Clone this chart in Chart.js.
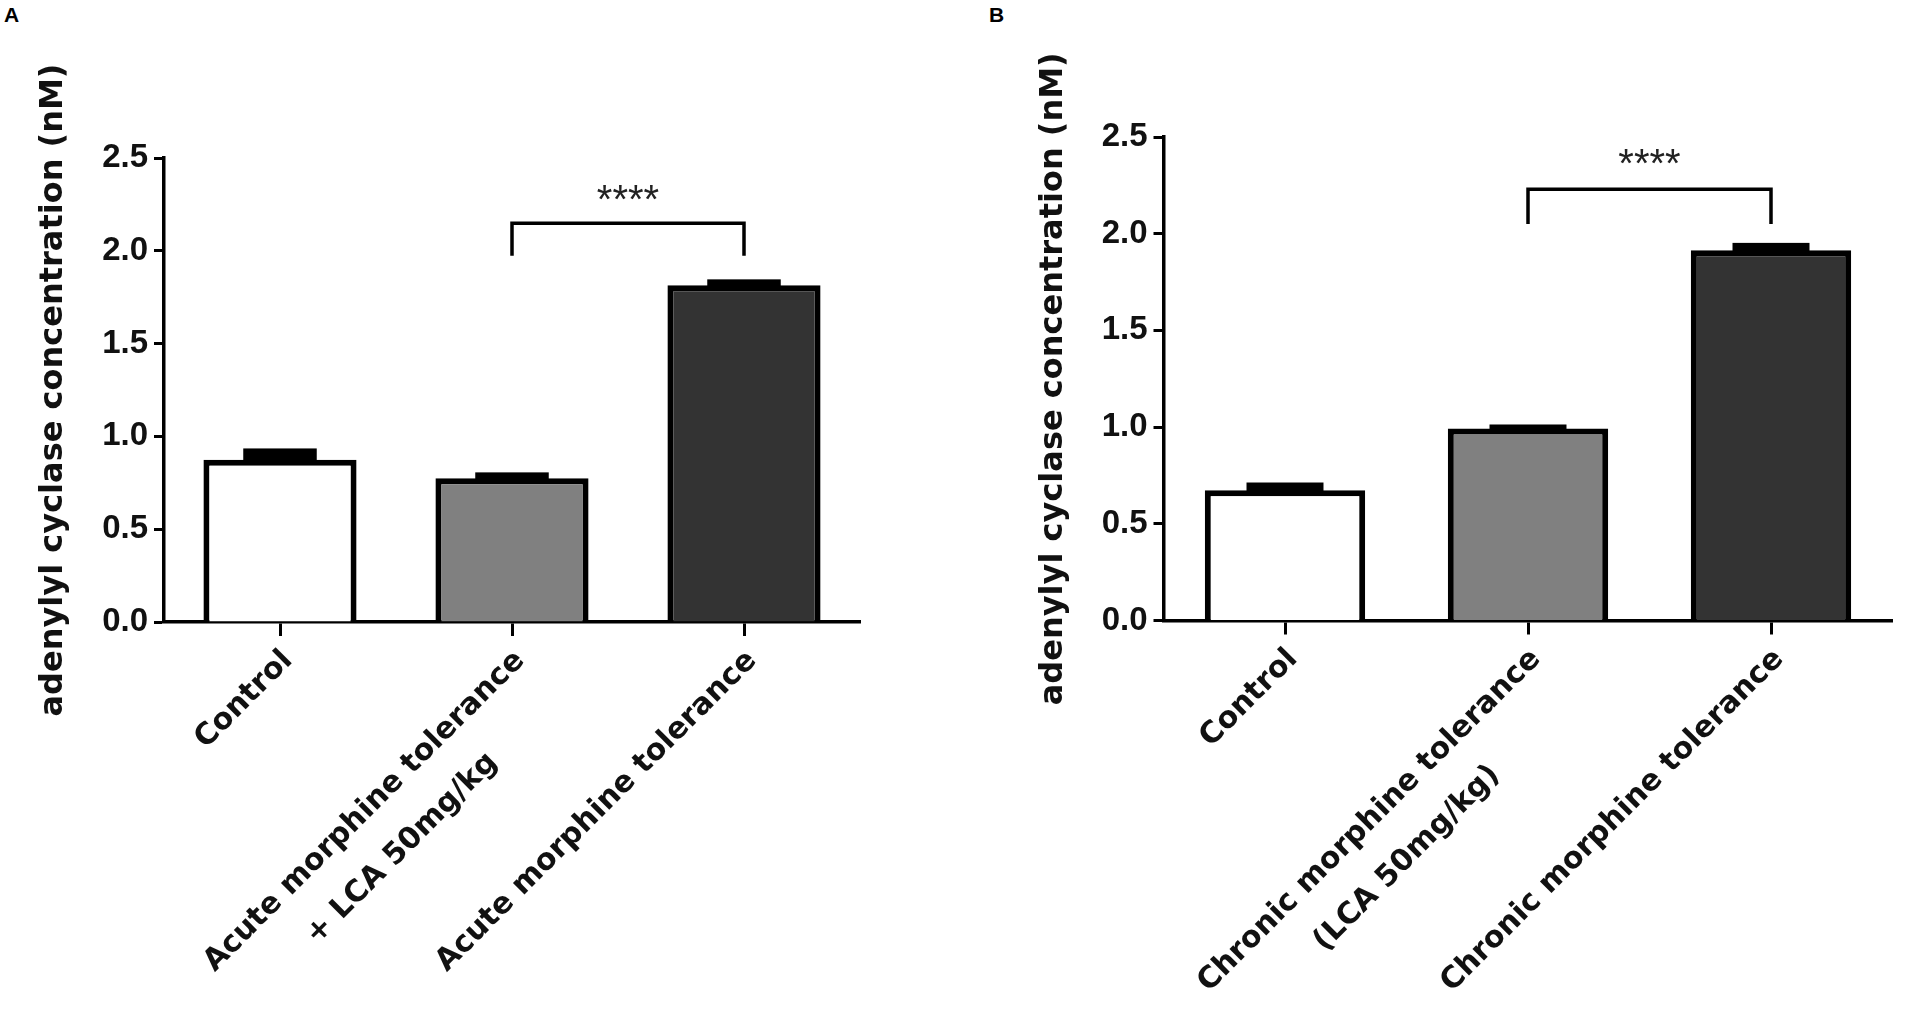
<!DOCTYPE html>
<html>
<head>
<meta charset="utf-8">
<title>Adenylyl cyclase concentration</title>
<script src="https://cdn.jsdelivr.net/npm/chart.js@4.4.0/dist/chart.umd.min.js"></script>
<style>
  html, body { margin: 0; padding: 0; background: #fff; }
  body { width: 1909px; height: 1016px; position: relative; overflow: hidden; }
  .panel { position: absolute; top: 0; height: 1016px; }
  #panelA { left: 0; width: 900px; }
  #panelB { left: 950px; width: 959px; }
  .tag { position: absolute; top: 3px; font: bold 21px "Liberation Sans", Arial, sans-serif; color: #000; }
</style>
</head>
<body>
<div class="tag" style="left:4px">A</div>
<div class="tag" style="left:989px">B</div>
<div class="panel" id="panelA"><canvas id="chartA"></canvas></div>
<div class="panel" id="panelB"><canvas id="chartB"></canvas></div>

<script>
// Data
var labelsA = [['Control'], ['Acute morphine tolerance', '+ LCA 50mg/kg'], ['Acute morphine tolerance']];
var meansA = [0.874, 0.775, 1.815];
var semA = [0.045, 0.015, 0.015];

var labelsB = [['Control'], ['Chronic morphine tolerance', '(LCA 50mg/kg)'], ['Chronic morphine tolerance']];
var meansB = [0.674, 0.993, 1.915];
var semB = [0.024, 0.005, 0.022];

var barColors = ['#ffffff', '#808080', '#333333'];
var yTicks = [0, 0.5, 1.0, 1.5, 2.0, 2.5];
var yTitle = 'adenylyl cyclase concentration (nM)';

// significance bracket: bars compared, bracket top, leg end, star height
var sigA = { from: 1, to: 2, top: 2.148, end: 1.973, starY: 2.33, text: '****' };
var sigB = { from: 1, to: 2, top: 2.23, end: 2.05, starY: 2.41, text: '****' };

function makeChart(id, labels, means, sem, sig, box) {
    var extras = {
        id: 'extras',
        afterDatasetsDraw: function(chart) {
            var ctx = chart.ctx;
            var x = chart.scales.x, y = chart.scales.y;
            var meta = chart.getDatasetMeta(0);
            ctx.save();
            // error bars (SEM)
            ctx.fillStyle = '#000';
            meta.data.forEach(function(bar, i) {
                var w = bar.width * 0.48;
                var top = y.getPixelForValue(means[i] + sem[i]) - 3;
                var bottom = y.getPixelForValue(means[i]) + 4;
                ctx.fillRect(bar.x - w / 2, top, w, bottom - top);
            });
            // bracket
            var x1 = x.getPixelForValue(sig.from), x2 = x.getPixelForValue(sig.to);
            var yt = y.getPixelForValue(sig.top), ye = y.getPixelForValue(sig.end);
            ctx.strokeStyle = '#000';
            ctx.lineWidth = 3.5;
            ctx.beginPath();
            ctx.moveTo(x1, ye);
            ctx.lineTo(x1, yt);
            ctx.lineTo(x2, yt);
            ctx.lineTo(x2, ye);
            ctx.stroke();
            ctx.fillStyle = '#222';
            ctx.font = '40px "Liberation Sans", Arial, sans-serif';
            ctx.textAlign = 'center';
            ctx.textBaseline = 'alphabetic';
            ctx.fillText(sig.text, (x1 + x2) / 2, y.getPixelForValue(sig.starY) + 23);
            ctx.restore();
        },
        afterDraw: function(chart) {
            // rotated category labels, second line centred under the first
            var ctx = chart.ctx;
            var x = chart.scales.x;
            ctx.save();
            ctx.fillStyle = '#111';
            ctx.font = 'bold 30px "DejaVu Sans", sans-serif';
            ctx.textBaseline = 'middle';
            labels.forEach(function(lines, i) {
                var ax = x.getPixelForTick(i) + 8;
                var ay = x.top + 34;
                ctx.save();
                ctx.translate(ax, ay);
                ctx.rotate(-Math.PI / 4);
                ctx.textAlign = 'right';
                ctx.fillText(lines[0], 0, 0);
                if (lines.length > 1) {
                    var w1 = ctx.measureText(lines[0]).width;
                    ctx.textAlign = 'center';
                    ctx.fillText(lines[1], -w1 / 2, 53);
                }
                ctx.restore();
            });
            ctx.restore();
        }
    };

    var ctx = document.getElementById(id).getContext('2d');
    return new Chart(ctx, {
        type: 'bar',
        data: {
            labels: labels.map(function(l) { return l.join(' '); }),
            datasets: [{
                data: means,
                backgroundColor: barColors,
                borderColor: '#000',
                borderWidth: 6,
                barPercentage: 0.66,
                categoryPercentage: 1
            }]
        },
        options: {
            responsive: true,
            maintainAspectRatio: false,
            animation: false,
            layout: {
                padding: { left: 0, top: box.top, right: box.right, bottom: 0 }
            },
            plugins: {
                legend: { display: false },
                tooltip: { enabled: false }
            },
            scales: {
                x: {
                    offset: true,
                    z: 1,
                    grid: {
                        offset: false,
                        drawOnChartArea: false,
                        drawTicks: true,
                        tickLength: 14,
                        tickWidth: 3,
                        tickColor: '#000'
                    },
                    border: { display: true, width: 3.5, color: '#000' },
                    ticks: { display: false },
                    afterFit: function(scale) { scale.height = box.xHeight; }
                },
                y: {
                    min: 0,
                    max: 2.5,
                    afterBuildTicks: function(scale) {
                        scale.ticks = yTicks.map(function(v) { return { value: v }; });
                    },
                    grid: {
                        drawOnChartArea: false,
                        drawTicks: true,
                        tickLength: 10,
                        tickWidth: 3,
                        tickColor: '#000'
                    },
                    border: { display: true, width: 3.5, color: '#000' },
                    ticks: {
                        padding: 6,
                        color: '#111',
                        font: { family: '"Liberation Sans", Arial, sans-serif', size: 33, weight: 'bold' },
                        callback: function(v) { return Number(v).toFixed(1); }
                    },
                    title: {
                        display: true,
                        text: yTitle,
                        color: '#111',
                        font: { family: '"DejaVu Sans", sans-serif', size: 32, weight: 'bold' },
                        padding: { top: box.titlePad, bottom: 0 }
                    },
                    afterFit: function(scale) { scale.width = box.yWidth; }
                }
            }
        },
        plugins: [extras]
    });
}

makeChart('chartA', labelsA, meansA, semA, sigA,
    { top: 158, right: 40, xHeight: 394, yWidth: 164, titlePad: 34 });
makeChart('chartB', labelsB, meansB, semB, sigB,
    { top: 137, right: 16.5, xHeight: 395.5, yWidth: 213.5, titlePad: 84 });
</script>
</body>
</html>
